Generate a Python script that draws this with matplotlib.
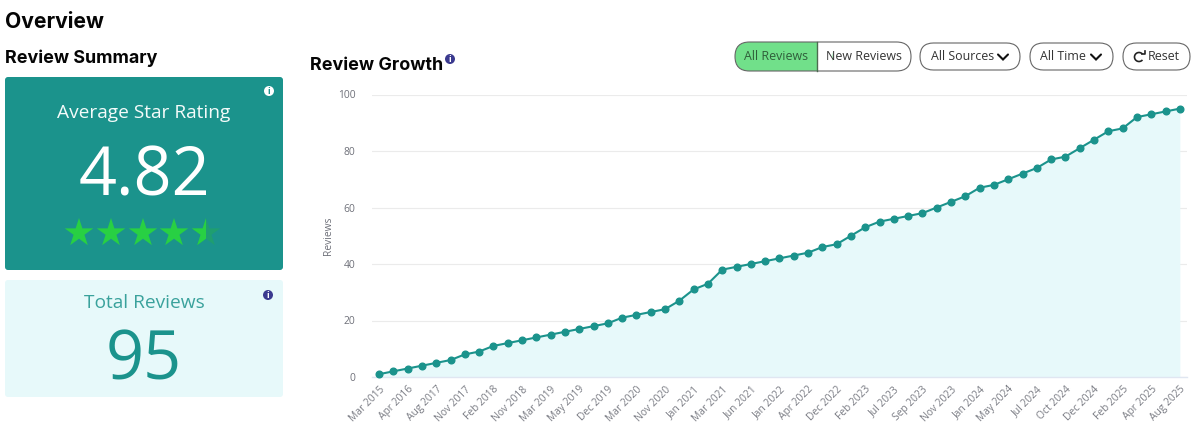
import numpy as np
import matplotlib
matplotlib.use("Agg")
import matplotlib.pyplot as plt
from matplotlib.patches import FancyBboxPatch, Circle, Rectangle, Arc
from matplotlib.markers import MarkerStyle
from matplotlib.path import Path
from matplotlib.patches import PathPatch

# chart data
reviews = [1, 2, 3, 4, 5, 6, 8, 9, 11, 12, 13, 14, 15, 16, 17, 18, 19, 21, 22, 23,
           24, 27, 31, 33, 38, 39, 40, 41, 42, 43, 44, 46, 47, 50, 53, 55, 56, 57,
           58, 60, 62, 64, 67, 68, 70, 72, 74, 77, 78, 81, 84, 87, 88, 92, 93, 94, 95]
tick_labels = ["Mar 2015", "Apr 2016", "Aug 2017", "Nov 2017", "Feb 2018", "Nov 2018",
               "Mar 2019", "May 2019", "Dec 2019", "Mar 2020", "Nov 2020", "Jan 2021",
               "Mar 2021", "Jun 2021", "Jan 2022", "Apr 2022", "Dec 2022", "Feb 2023",
               "Jul 2023", "Sep 2023", "Nov 2023", "Jan 2024", "May 2024", "Jul 2024",
               "Oct 2024", "Dec 2024", "Feb 2025", "Apr 2025", "Aug 2025"]
y_ticks = [0, 20, 40, 60, 80, 100]

TEAL = "#1b938c"
LIGHT = "#e7f9fa"
NAVY = "#3b3a8f"
BODY = "Open Sans"
HEAD = "Inter"

W, H = 1200, 432
fig = plt.figure(figsize=(W / 100, H / 100), dpi=100, facecolor="white")

# overlay in pixel coordinates for the dashboard pieces
ui = fig.add_axes([0, 0, 1, 1])
ui.set_xlim(0, W)
ui.set_ylim(H, 0)
ui.axis("off")


def card(x0, y0, x1, y1, color, r=3):
    ui.add_patch(FancyBboxPatch((x0 + r, y0 + r), x1 - x0 - 2 * r, y1 - y0 - 2 * r,
                                boxstyle=f"round,pad={r},rounding_size={r}",
                                fc=color, ec="none"))


def info(x, y, bg, fg, r=5):
    ui.add_patch(Circle((x, y), r, fc=bg, ec="none"))
    ui.text(x, y + 0.3, "i", color=fg, fontsize=6.5, fontweight="bold", family=BODY,
            ha="center", va="center")


def pill(x0, x1, y0, y1):
    r = (y1 - y0) / 2
    ui.add_patch(FancyBboxPatch((x0 + r, y0 + r), x1 - x0 - 2 * r, 0,
                                boxstyle=f"round,pad={r},rounding_size={r}",
                                fc="none", ec="#666666", lw=0.8, zorder=4))


def chevron(x, y):
    ui.plot([x - 5, x, x + 5], [y - 2.5, y + 2.5, y - 2.5], color="#111111", lw=1.5,
            solid_capstyle="round", solid_joinstyle="miter")


# headings
ui.text(5, 22, "Overview", fontsize=15.2, fontweight="bold", family=HEAD, color="#050505", va="center")
ui.text(5, 58, "Review Summary", fontsize=12.9, fontweight="bold", family=HEAD, color="#050505", va="center")
ui.text(310, 65, "Review Growth", fontsize=12.9, fontweight="bold", family=HEAD, color="#050505", va="center")
info(450, 59, NAVY, "white")

# rating card
card(5, 77, 283, 270, TEAL)
ui.text(144, 113, "Average Star Rating", color="#f4fbfa", fontsize=13.8, family=BODY, ha="center", va="center")
ui.text(144, 178, "4.82", color="white", fontsize=48, family=BODY, ha="center", va="center")
info(269, 91, "white", TEAL)

star_path = MarkerStyle("*").get_path().transformed(MarkerStyle("*").get_transform())
star_xs = [79, 111, 143, 174, 206]
for i, sx in enumerate(star_xs):
    verts = star_path.vertices * np.array([30, -30]) + np.array([sx, 233])
    p = Path(verts, star_path.codes)
    if i == 4:
        ui.add_patch(PathPatch(p, fc="#1f9e70", ec="none"))
        top = PathPatch(p, fc="#28d043", ec="none")
        ui.add_patch(top)
        clip = Rectangle((sx - 16, 215), 16, 34, transform=ui.transData)
        top.set_clip_path(clip)
    else:
        ui.add_patch(PathPatch(p, fc="#28d043", ec="none"))

# total card
card(5, 280, 283, 397, LIGHT)
ui.text(144, 303, "Total Reviews", color="#3aa29c", fontsize=13.8, family=BODY, ha="center", va="center")
ui.text(144, 362, "95", color=TEAL, fontsize=48, family=BODY, ha="center", va="center")
info(268, 295, NAVY, "white")

# buttons
r = 14.5
ui.add_patch(FancyBboxPatch((735 + r, 42 + r), 83 - r, 0.01,
                            boxstyle=f"round,pad={r},rounding_size={r}",
                            fc="#71e08a", ec="none", zorder=2))
ui.add_patch(Rectangle((817, 42), 15, 29.5, fc="white", ec="none", zorder=2.5))
pill(735, 911, 42, 71)
ui.plot([817, 817], [42, 71], color="#4d6b50", lw=1, zorder=5)
ui.text(776, 57, "All Reviews", color="#2f5e3a", fontsize=8.9, family=BODY, ha="center", va="center", zorder=5)
ui.text(864, 57, "New Reviews", color="#333333", fontsize=8.9, family=BODY, ha="center", va="center", zorder=5)
pill(920, 1020, 43, 70)
ui.text(931, 56, "All Sources", color="#333333", fontsize=8.9, family=BODY, ha="left", va="center")
chevron(1003, 57)
pill(1030, 1113, 43, 70)
ui.text(1040, 56, "All Time", color="#333333", fontsize=8.9, family=BODY, ha="left", va="center")
chevron(1096, 57)
pill(1123, 1190, 43, 70)
ui.add_patch(Arc((1139, 57), 9, 9, theta1=40, theta2=320, color="#222222", lw=1.2))
ui.plot([1142, 1145, 1145], [53.5, 53.5, 50.5], color="#222222", lw=1.2)
ui.text(1148, 56, "Reset", color="#333333", fontsize=8.9, family=BODY, ha="left", va="center")

# line chart
ax = fig.add_axes([372 / W, 1 - 377 / H, (1187 - 372) / W, (377 - 94.5) / H])
ax.patch.set_alpha(0)
x = np.arange(len(reviews))
ax.fill_between(x, reviews, 0, color=LIGHT, lw=0, zorder=1)
ax.plot(x, reviews, color=TEAL, lw=1.5, marker="o", ms=4.8, mec=TEAL, zorder=3, clip_on=False)
ax.set_xlim(-0.49, 56.5)
ax.set_ylim(0, 100)
ax.set_yticks(y_ticks)
ax.set_xticks(x[::2])
ax.set_xticklabels(tick_labels, rotation=45, ha="right", rotation_mode="anchor",
                   fontsize=7.4, family=BODY, color="#7a7c84")
ax.tick_params(axis="x", length=0, pad=5)
ax.tick_params(axis="y", length=0, pad=12, labelsize=7.4, labelcolor="#6e7079")
for lab in ax.get_yticklabels():
    lab.set_family(BODY)
ax.grid(axis="y", color="#ebebeb", lw=0.8, zorder=0)
ax.set_axisbelow(True)
for side in ["top", "right", "left"]:
    ax.spines[side].set_visible(False)
ax.spines["bottom"].set_color("#e0e6f1")
ax.spines["bottom"].set_linewidth(1)
ui.text(329, 236, "Reviews", rotation=90, color="#6e7079", fontsize=7.4, family=BODY, ha="center", va="center")

fig.savefig("out.png", dpi=100)
